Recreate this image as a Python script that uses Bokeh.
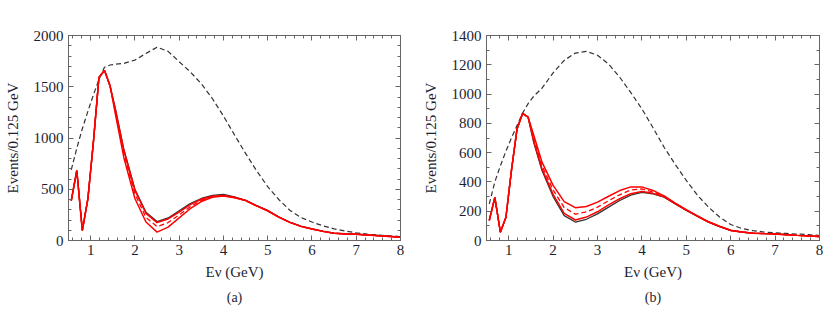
from bokeh.plotting import figure
from bokeh.models import LinearAxis, SingleIntervalTicker, Range1d, Title, CustomJSTickFormatter
from bokeh.layouts import row
from bokeh.embed import file_html
from bokeh.resources import INLINE

# ---- data ----
E = [0.5625, 0.6875, 0.8125, 0.9375, 1.0625, 1.1875, 1.3125, 1.4375, 1.5625, 1.75,
     2.0, 2.25, 2.5, 2.75, 3.0, 3.25, 3.5, 3.75, 4.0, 4.25, 4.5, 4.75, 5.0, 5.25,
     5.5, 5.75, 6.0, 6.25, 6.5, 6.75, 7.0, 7.25, 7.5, 7.75, 8.0]

low_a = [390, 683, 98, 405, 960, 1590, 1660, 1510]
a_noosc = [690, 900, 1090, 1260, 1420, 1570, 1690, 1712, 1720, 1728, 1760, 1825, 1886, 1845,
           1745, 1645, 1530, 1385, 1215, 1030, 850, 680, 525, 400, 295, 225, 180, 143, 114,
           92, 75, 62, 52, 45, 39]
a_black = low_a + [1280, 890, 500, 275, 185, 220, 290, 360, 410, 440, 450, 425, 392, 340, 293,
                   230, 179, 140, 114, 91, 72, 66, 62, 55, 49, 42, 33]
a_red_hi = low_a + [1270, 880, 490, 265, 175, 210, 278, 350, 402, 432, 440, 420, 392, 338, 290,
                    228, 177, 138, 112, 89, 70, 64, 60, 53, 47, 40, 32]
a_red_mid = low_a + [1250, 845, 455, 225, 135, 175, 250, 330, 392, 428, 438, 420, 390, 338, 290,
                     228, 177, 138, 112, 89, 70, 64, 60, 53, 47, 40, 32]
a_red_lo = low_a + [1225, 810, 410, 180, 82, 130, 220, 310, 380, 422, 435, 418, 390, 338, 290,
                    228, 177, 138, 112, 89, 70, 64, 60, 53, 47, 40, 32]

low_b = [137, 294, 57, 159, 480, 762, 868, 842]
b_noosc = [250, 400, 510, 610, 700, 785, 870, 935, 985, 1040, 1145, 1230, 1280, 1292, 1265,
           1205, 1115, 1010, 899, 770, 637, 520, 410, 310, 228, 160, 109, 82, 68, 58, 52, 48,
           44, 40, 34]
b_black = low_b + [670, 478, 300, 170, 126, 145, 182, 228, 273, 310, 328, 318, 296, 250, 205,
                   165, 125, 95, 68, 58, 50, 47, 45, 40, 35, 31, 27]
b_red_lo = low_b + [680, 490, 315, 185, 140, 160, 196, 243, 285, 320, 335, 322, 298, 252, 207,
                    166, 126, 96, 69, 58, 50, 47, 45, 40, 35, 31, 27]
b_red_mid = low_b + [700, 510, 345, 225, 180, 195, 228, 272, 312, 345, 352, 332, 302, 254, 208,
                     167, 127, 96, 69, 58, 50, 47, 45, 40, 35, 31, 27]
b_red_hi = low_b + [720, 535, 376, 265, 224, 232, 262, 302, 341, 366, 366, 342, 305, 255, 210,
                    168, 128, 97, 70, 58, 50, 47, 45, 40, 35, 31, 27]

FONT = "Liberation Serif"
TXT = "#1e1e30"
FRAME = "#666666"


def style_axis(ax, show_labels):
    ax.axis_line_color = FRAME
    ax.major_tick_line_color = FRAME
    ax.minor_tick_line_color = FRAME
    ax.major_tick_in = 5
    ax.major_tick_out = 0
    ax.minor_tick_in = 3
    ax.minor_tick_out = 0
    ax.major_label_text_font = FONT
    ax.major_label_text_font_size = "15px"
    ax.major_label_text_color = TXT
    ax.axis_label_text_font = FONT
    ax.axis_label_text_font_size = "15px"
    ax.axis_label_text_font_style = "normal"
    ax.axis_label_text_color = TXT
    if not show_labels:
        ax.formatter = CustomJSTickFormatter(code="return ''")
        ax.major_label_standoff = 0


def panel(ymax, yint, yminor, series, tag, width, left, right):
    p = figure(width=width, height=315, x_range=Range1d(0.5, 8), y_range=Range1d(0, ymax),
               output_backend="svg", toolbar_location=None,
               min_border_left=left, min_border_right=right,
               min_border_top=35, min_border_bottom=75)
    p.grid.visible = False
    p.outline_line_color = FRAME
    p.background_fill_color = "white"
    p.xaxis.ticker = SingleIntervalTicker(interval=1, num_minor_ticks=5)
    p.yaxis.ticker = SingleIntervalTicker(interval=yint, num_minor_ticks=yminor)
    p.xaxis.axis_label = "Eν (GeV)"
    p.yaxis.axis_label = "Events/0.125 GeV"
    p.yaxis.major_label_orientation = "horizontal"
    for ax in p.xaxis + p.yaxis:
        style_axis(ax, True)
    p.xaxis.major_label_standoff = 4
    p.yaxis.major_label_standoff = 5
    p.yaxis.axis_label_standoff = 10
    p.xaxis.axis_label_standoff = 6
    ra = LinearAxis(ticker=SingleIntervalTicker(interval=yint, num_minor_ticks=yminor))
    style_axis(ra, False)
    p.add_layout(ra, "right")
    ta = LinearAxis(ticker=SingleIntervalTicker(interval=1, num_minor_ticks=5))
    style_axis(ta, False)
    p.add_layout(ta, "above")

    noosc, black, rlo, rmid, rhi = series
    p.line(E, noosc, line_color="#333333", line_width=1.2, line_dash="5 3")
    p.line(E, black, line_color="#333333", line_width=1.3)
    p.line(E, rlo, line_color="#ff0000", line_width=1.5)
    p.line(E, rmid, line_color="#ff0000", line_width=1.3, line_dash="5 3")
    p.line(E, rhi, line_color="#ff0000", line_width=1.5)

    p.add_layout(Title(text=tag, align="center", text_font=FONT, text_font_size="14px",
                       text_font_style="normal", text_color=TXT), "below")
    return p


pa = panel(2000, 500, 5, (a_noosc, a_black, a_red_lo, a_red_mid, a_red_hi), "(a)", 418, 68, 18)
pb = panel(1400, 200, 2, (b_noosc, b_black, b_red_lo, b_red_mid, b_red_hi), "(b)", 405, 68, 4)

layout = row(pa, pb)
open("out.html", "w").write(file_html(layout, INLINE))
